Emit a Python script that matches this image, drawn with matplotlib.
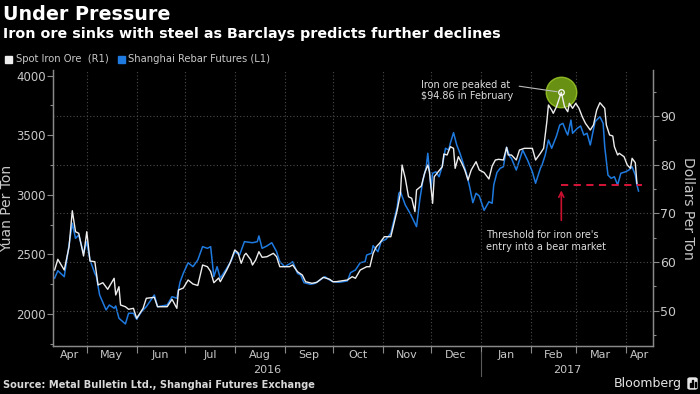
import matplotlib
matplotlib.use("Agg")
import matplotlib.pyplot as plt
import matplotlib.dates as mdates
import matplotlib.transforms as mtransforms
from matplotlib.patches import Rectangle, FancyBboxPatch
from matplotlib.ticker import FixedLocator, FixedFormatter, MultipleLocator, NullFormatter
import pandas as pd

# Shanghai rebar futures, yuan per ton (left axis, L1)
rebar_dates = [
    "2016-04-11", "2016-04-13", "2016-04-17", "2016-04-20", "2016-04-22", "2016-04-24", "2016-04-26", "2016-04-29",
    "2016-05-01", "2016-05-03", "2016-05-06", "2016-05-07", "2016-05-09", "2016-05-13", "2016-05-15", "2016-05-18",
    "2016-05-19", "2016-05-21", "2016-05-25", "2016-05-27", "2016-05-30",
    "2016-06-01", "2016-06-04", "2016-06-07", "2016-06-12", "2016-06-14", "2016-06-20", "2016-06-23", "2016-06-26",
    "2016-06-28", "2016-06-30",
    "2016-07-03", "2016-07-06", "2016-07-09", "2016-07-12", "2016-07-15", "2016-07-17", "2016-07-19", "2016-07-21",
    "2016-07-23", "2016-07-27", "2016-07-30",
    "2016-08-01", "2016-08-04", "2016-08-07", "2016-08-12", "2016-08-15", "2016-08-16", "2016-08-18", "2016-08-21",
    "2016-08-24", "2016-08-27", "2016-08-29",
    "2016-09-01", "2016-09-04", "2016-09-06", "2016-09-09", "2016-09-11", "2016-09-13", "2016-09-17", "2016-09-20",
    "2016-09-23", "2016-09-26", "2016-09-29",
    "2016-10-01", "2016-10-05", "2016-10-10", "2016-10-12", "2016-10-15", "2016-10-18", "2016-10-21", "2016-10-22",
    "2016-10-25", "2016-10-26", "2016-10-29", "2016-10-31",
    "2016-11-03", "2016-11-06", "2016-11-08", "2016-11-10", "2016-11-11", "2016-11-12", "2016-11-15", "2016-11-18",
    "2016-11-20", "2016-11-22", "2016-11-24", "2016-11-26", "2016-11-28", "2016-11-29",
    "2016-12-01", "2016-12-02", "2016-12-04", "2016-12-06", "2016-12-08", "2016-12-10", "2016-12-12", "2016-12-13",
    "2016-12-15", "2016-12-17", "2016-12-19", "2016-12-21", "2016-12-23", "2016-12-25", "2016-12-27", "2016-12-29",
    "2016-12-31",
    "2017-01-03", "2017-01-06", "2017-01-08", "2017-01-09", "2017-01-11", "2017-01-13", "2017-01-15", "2017-01-17",
    "2017-01-19", "2017-01-20", "2017-01-23", "2017-01-25", "2017-01-27", "2017-01-30",
    "2017-02-02", "2017-02-04", "2017-02-07", "2017-02-08", "2017-02-10", "2017-02-12", "2017-02-14", "2017-02-17",
    "2017-02-19", "2017-02-21", "2017-02-23", "2017-02-24", "2017-02-26", "2017-02-27",
    "2017-03-02", "2017-03-04", "2017-03-06", "2017-03-08", "2017-03-10", "2017-03-13", "2017-03-16", "2017-03-18",
    "2017-03-19", "2017-03-21", "2017-03-23", "2017-03-25", "2017-03-27", "2017-03-29",
    "2017-04-01", "2017-04-03", "2017-04-05", "2017-04-07", "2017-04-08", "2017-04-09",
]
rebar_yuan = [
    2300, 2363, 2313, 2579, 2761, 2635, 2663, 2509,
    2607, 2453, 2341, 2313, 2159, 2034, 2075, 2048, 2067, 1964, 1916, 2006, 2006,
    1955, 2019, 2061, 2159, 2061, 2075, 2145, 2132, 2268, 2341,
    2430, 2397, 2453, 2565, 2551, 2565, 2313, 2397, 2300, 2383, 2453,
    2523, 2495, 2607, 2598, 2607, 2655, 2551, 2571, 2598, 2523, 2439,
    2397, 2420, 2439, 2341, 2327, 2263, 2249, 2257, 2285, 2313, 2285,
    2271, 2266, 2277, 2347, 2369, 2430, 2439, 2495, 2509, 2573, 2523, 2607,
    2627, 2677, 2789, 2900, 3013, 3026, 2915, 2845, 2789, 2733, 2957, 3125, 3231, 3349,
    3055, 3181, 3194, 3152, 3242, 3391, 3376, 3433, 3522, 3418, 3349, 3265, 3181, 3068, 2934, 3013, 2990,
    2870, 2942, 2929, 3083, 3188, 3223, 3236, 3399, 3320, 3307, 3208, 3292, 3376, 3292,
    3194, 3097, 3223, 3250, 3334, 3460, 3391, 3494, 3586, 3600, 3530, 3502, 3628, 3517,
    3559, 3578, 3502, 3517, 3418, 3614, 3656, 3600, 3404, 3166, 3139, 3152, 3083, 3181,
    3194, 3208, 3236, 3166, 3083, 3032,
]

# spot iron ore, dollars per ton (right axis, R1)
ore_dates = [
    "2016-04-11", "2016-04-13", "2016-04-17", "2016-04-20", "2016-04-22", "2016-04-24", "2016-04-26", "2016-04-29",
    "2016-05-01", "2016-05-03", "2016-05-06", "2016-05-08", "2016-05-11", "2016-05-14", "2016-05-18", "2016-05-19",
    "2016-05-21", "2016-05-22", "2016-05-25", "2016-05-27", "2016-05-30",
    "2016-06-01", "2016-06-05", "2016-06-07", "2016-06-12", "2016-06-14", "2016-06-20", "2016-06-23", "2016-06-26",
    "2016-06-27", "2016-06-30",
    "2016-07-03", "2016-07-06", "2016-07-09", "2016-07-12", "2016-07-15", "2016-07-17", "2016-07-19", "2016-07-22",
    "2016-07-23", "2016-07-27", "2016-07-29",
    "2016-08-01", "2016-08-03", "2016-08-05", "2016-08-07", "2016-08-08", "2016-08-11", "2016-08-12", "2016-08-14",
    "2016-08-16", "2016-08-18", "2016-08-21", "2016-08-25", "2016-08-27", "2016-08-29",
    "2016-09-01", "2016-09-04", "2016-09-06", "2016-09-09", "2016-09-12", "2016-09-14", "2016-09-18", "2016-09-21",
    "2016-09-25", "2016-09-29",
    "2016-10-01", "2016-10-03", "2016-10-10", "2016-10-13", "2016-10-15", "2016-10-18", "2016-10-22", "2016-10-24",
    "2016-10-26", "2016-10-28", "2016-10-30",
    "2016-11-02", "2016-11-06", "2016-11-08", "2016-11-10", "2016-11-12", "2016-11-13", "2016-11-15", "2016-11-17",
    "2016-11-19", "2016-11-21", "2016-11-22", "2016-11-25", "2016-11-27", "2016-11-29", "2016-11-30",
    "2016-12-02", "2016-12-03", "2016-12-06", "2016-12-08", "2016-12-09", "2016-12-11", "2016-12-13", "2016-12-15",
    "2016-12-16", "2016-12-18", "2016-12-20", "2016-12-22", "2016-12-24", "2016-12-26", "2016-12-29", "2016-12-31",
    "2017-01-03", "2017-01-06", "2017-01-08", "2017-01-10", "2017-01-12", "2017-01-15", "2017-01-17", "2017-01-18",
    "2017-01-20", "2017-01-23", "2017-01-25", "2017-01-28",
    "2017-02-02", "2017-02-04", "2017-02-07", "2017-02-09", "2017-02-11", "2017-02-12", "2017-02-14", "2017-02-15",
    "2017-02-17", "2017-02-20", "2017-02-22", "2017-02-24", "2017-02-25", "2017-02-27",
    "2017-03-01", "2017-03-03", "2017-03-05", "2017-03-07", "2017-03-10", "2017-03-12", "2017-03-14", "2017-03-16",
    "2017-03-19", "2017-03-20", "2017-03-22", "2017-03-24", "2017-03-25", "2017-03-27", "2017-03-28", "2017-03-31",
    "2017-04-02", "2017-04-04", "2017-04-05", "2017-04-07", "2017-04-08",
]
ore_usd = [
    58.36, 60.56, 58.36, 63.15, 70.54, 66.23, 65.90, 61.24,
    66.23, 60.21, 60.07, 55.28, 55.75, 54.40, 56.66, 53.23, 54.93, 51.17, 50.82, 50.29, 50.49,
    48.44, 50.49, 52.55, 52.75, 50.82, 50.82, 52.34, 50.49, 54.25, 54.66,
    56.31, 55.49, 55.18, 59.39, 59.04, 58.05, 55.75, 56.72, 55.96, 58.36, 59.74,
    62.47, 61.92, 59.74, 61.44, 61.79, 60.42, 59.39, 60.42, 62.12, 60.97, 61.09, 61.79, 61.09, 59.04,
    59.04, 59.04, 59.39, 58.01, 57.33, 55.96, 55.63, 55.83, 56.86, 56.45,
    55.96, 55.96, 56.31, 56.99, 56.66, 58.36, 59.04, 59.04, 61.79, 63.15, 63.85,
    65.20, 65.20, 67.96, 70.69, 74.12, 79.93, 77.20, 73.42, 73.09, 70.34, 74.80, 75.62, 78.23, 79.93, 78.56,
    72.06, 77.53, 78.76, 79.58, 82.19, 81.99, 83.69, 83.36, 79.25, 81.64, 80.40, 78.91, 76.85, 78.91, 80.61, 78.91,
    78.39, 77.06, 79.73, 80.96, 81.10, 80.96, 83.57, 81.99, 81.99, 80.96, 83.01, 83.36,
    83.36, 80.96, 82.34, 83.36, 88.83, 92.26, 91.23, 90.55, 91.91, 94.86, 91.91, 90.88, 92.61, 91.58,
    92.61, 91.58, 89.86, 88.50, 87.12, 88.15, 91.23, 92.73, 91.58, 88.15, 86.10, 85.89, 83.69, 81.99, 82.34, 81.64,
    79.93, 79.25, 81.31, 80.40, 76.17,
]

peak_date = "2017-02-20"
peak_usd = 94.86
bear_level = 75.89          # 20% under the February peak
bear_end = "2017-04-11"

yuan_ticks = [2000, 2500, 3000, 3500, 4000]
usd_ticks = [50, 60, 70, 80, 90]

BG = "black"
TXT = "#c8c8c8"
SPINE = "#8a8a8a"
BLUE = "#1f7ae0"
WHITE = "#ededed"

x_start = pd.Timestamp("2016-04-10")
x_end = pd.Timestamp("2017-04-18")

fig = plt.figure(figsize=(7, 3.94), dpi=100, facecolor=BG)
ax = fig.add_axes([53 / 700, 1 - 346 / 394, 600 / 700, 276 / 394])
ax.set_facecolor(BG)
ax2 = ax.twinx()

ax.plot(pd.to_datetime(rebar_dates), rebar_yuan, color=BLUE, lw=1.1)
ax2.plot(pd.to_datetime(ore_dates), ore_usd, color=WHITE, lw=1.0)

ax.set_xlim(x_start, x_end)
ax.set_ylim(1731, 4048)
ax2.set_ylim(42.75, 99.45)

for a in (ax, ax2):
    a.spines["top"].set_visible(False)
    for s in ("left", "right", "bottom"):
        a.spines[s].set_color(SPINE)
        a.spines[s].set_linewidth(0.9)

# left axis (yuan)
ax.set_yticks(yuan_ticks)
ax.yaxis.set_minor_locator(MultipleLocator(250))
ax.tick_params(axis="y", which="major", colors=SPINE, labelcolor=TXT, labelsize=8.5,
               length=4, width=0.8, pad=1)
ax.tick_params(axis="y", which="minor", colors=SPINE, length=2.5, width=0.8)
ax.set_ylabel("Yuan Per Ton", color=TXT, fontsize=10, labelpad=2)

# right axis (dollars)
ax2.set_yticks(usd_ticks)
ax2.yaxis.set_minor_locator(MultipleLocator(5))
ax2.tick_params(axis="y", which="major", colors=SPINE, labelcolor=TXT, labelsize=9,
                length=4, width=0.8, pad=1)
ax2.tick_params(axis="y", which="minor", colors=SPINE, length=2.5, width=0.8)
ax2.set_ylabel("Dollars Per Ton", color=TXT, fontsize=10, rotation=270, labelpad=14)
ax2.yaxis.grid(True, which="major", color="#4a4a4a", linestyle=(0, (1, 2)), lw=0.8)
ax2.set_axisbelow(True)

# month boundaries as major ticks, month names centered between them
bounds = list(pd.date_range("2016-05-01", "2017-04-01", freq="MS"))
edges = [x_start] + bounds + [x_end]
centers = [a + (b - a) / 2 for a, b in zip(edges[:-1], edges[1:])]
month_names = [e.strftime("%b") for e in edges[:-1]]

ax.xaxis.set_major_locator(FixedLocator(mdates.date2num(bounds)))
ax.xaxis.set_major_formatter(NullFormatter())
ax.xaxis.set_minor_locator(FixedLocator(mdates.date2num(centers)))
ax.xaxis.set_minor_formatter(FixedFormatter(month_names))
ax.tick_params(axis="x", which="major", colors=SPINE, length=5, width=0.8)
ax.tick_params(axis="x", which="minor", length=0, labelcolor=TXT, labelsize=8, pad=3)
ax.xaxis.grid(True, which="major", color="#4a4a4a", linestyle=(0, (1, 2)), lw=0.8)

# year row with a separator at the turn of the year
trans = mtransforms.blended_transform_factory(ax.transData, ax.transAxes)
jan1 = pd.Timestamp("2017-01-01")
ax.plot([jan1, jan1], [-0.02, -0.11], transform=trans, color="#5a5a5a", lw=0.8, clip_on=False)
ax.text(x_start + (jan1 - x_start) / 2, -0.087, "2016", transform=trans, color=TXT,
        fontsize=8, ha="center", va="center")
ax.text(jan1 + (x_end - jan1) / 2, -0.087, "2017", transform=trans, color=TXT,
        fontsize=8, ha="center", va="center")

# peak callout
pk = pd.Timestamp(peak_date)
ax2.plot([pk], [peak_usd], "o", ms=22, color="#8cc21a", alpha=0.75, mec="#a6d62a", zorder=1)
ax2.plot([pk], [peak_usd], "o", ms=4, mfc="none", mec="white", mew=0.9, zorder=5)
ax2.annotate("Iron ore peaked at\n$94.86 in February", xy=(pk, peak_usd),
             xytext=(pd.Timestamp("2016-11-25"), 95.2), color="#dcdcdc", fontsize=7,
             ha="left", va="center", linespacing=1.15,
             arrowprops=dict(arrowstyle="-", color="#bdbdbd", lw=0.8,
                             relpos=(1, 0.75), shrinkA=2, shrinkB=3))

# bear market threshold
ax2.plot([pk, pd.Timestamp(bear_end)], [bear_level, bear_level], color="#e8163c",
         lw=1.3, dashes=(4, 3), zorder=6)
ax2.annotate("", xy=(pk, bear_level - 0.6), xytext=(pk, 68.0),
             arrowprops=dict(arrowstyle="->", color="#c8102e", lw=1.2, mutation_scale=9))
ax2.text(pd.Timestamp("2017-01-04"), 64.4, "Threshold for iron ore's\nentry into a bear market",
         color="#dcdcdc", fontsize=7, ha="left", va="center", linespacing=1.25)

# titles
fig.text(3 / 700, 1 - 14 / 394, "Under Pressure", color="white", fontsize=13.8,
         fontweight="bold", ha="left", va="center")
fig.text(3 / 700, 1 - 34 / 394, "Iron ore sinks with steel as Barclays predicts further declines",
         color="white", fontsize=10.3, fontweight="bold", ha="left", va="center")

# legend row
fig.patches.append(Rectangle((5 / 700, 1 - 62.7 / 394), 7 / 700, 7 / 394,
                             transform=fig.transFigure, color=WHITE))
fig.text(16 / 700, 1 - 59.5 / 394, "Spot Iron Ore  (R1)", color=TXT, fontsize=7.2,
         ha="left", va="center")
fig.patches.append(Rectangle((118 / 700, 1 - 62.7 / 394), 7 / 700, 7 / 394,
                             transform=fig.transFigure, color=BLUE))
fig.text(128 / 700, 1 - 59.5 / 394, "Shanghai Rebar Futures (L1)", color=TXT, fontsize=7.2,
         ha="left", va="center")

# footer
fig.text(3 / 700, 1 - 385 / 394, "Source: Metal Bulletin Ltd., Shanghai Futures Exchange",
         color="#d8d8d8", fontsize=7.1, fontweight="bold", ha="left", va="center")
fig.text(682 / 700, 1 - 383.5 / 394, "Bloomberg", color="#e6e6e6", fontsize=9,
         ha="right", va="center")
fig.patches.append(FancyBboxPatch((688 / 700, 1 - 389 / 394), 9 / 700, 11 / 394,
                                  boxstyle="round,pad=0,rounding_size=0.003",
                                  transform=fig.transFigure, color="#e6e6e6"))
for bx, bh in [(690, 4), (692.3, 7), (694.6, 5)]:
    fig.patches.append(Rectangle((bx / 700, 1 - 387 / 394), 1.2 / 700, bh / 394,
                                 transform=fig.transFigure, color="black"))

fig.savefig("out.png", dpi=100, facecolor=BG)
